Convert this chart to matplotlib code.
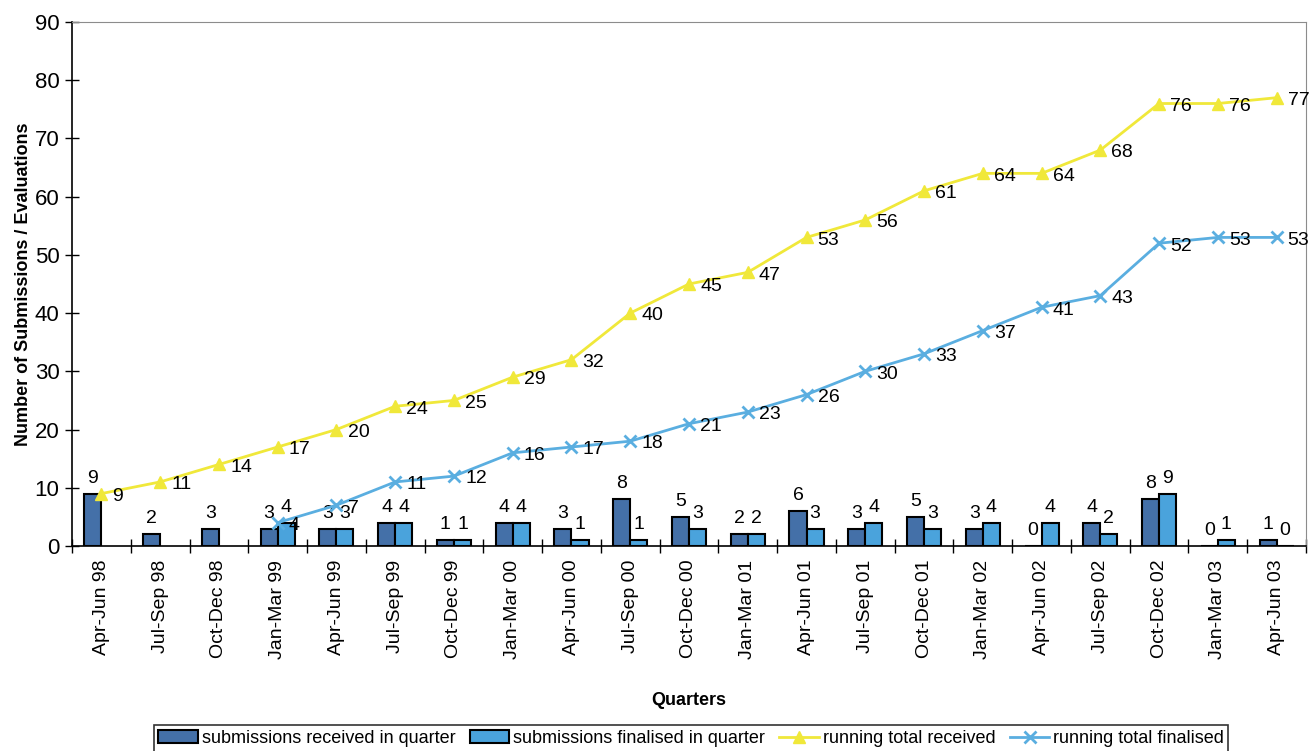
import matplotlib.pyplot as plt
import numpy as np

plt.rcParams['font.family'] = ['Liberation Sans', 'DejaVu Sans']

quarters = ['Apr-Jun 98', 'Jul-Sep 98', 'Oct-Dec 98', 'Jan-Mar 99', 'Apr-Jun 99',
            'Jul-Sep 99', 'Oct-Dec 99', 'Jan-Mar 00', 'Apr-Jun 00', 'Jul-Sep 00',
            'Oct-Dec 00', 'Jan-Mar 01', 'Apr-Jun 01', 'Jul-Sep 01', 'Oct-Dec 01',
            'Jan-Mar 02', 'Apr-Jun 02', 'Jul-Sep 02', 'Oct-Dec 02', 'Jan-Mar 03',
            'Apr-Jun 03']
received = [9, 2, 3, 3, 3, 4, 1, 4, 3, 8, 5, 2, 6, 3, 5, 3, 0, 4, 8, 0, 1]
finalised = [None, None, None, 4, 3, 4, 1, 4, 1, 1, 3, 2, 3, 4, 3, 4, 4, 2, 9, 1, 0]
total_received = [9, 11, 14, 17, 20, 24, 25, 29, 32, 40, 45, 47, 53, 56, 61, 64, 64,
                  68, 76, 76, 77]
total_finalised = [None, None, None, 4, 7, 11, 12, 16, 17, 18, 21, 23, 26, 30, 33,
                   37, 41, 43, 52, 53, 53]

c_recv = '#4470a8'
c_fin = '#4aa3dc'
c_yellow = '#f0e83a'
c_blue = '#5aaee0'

x = np.arange(len(quarters))
w = 0.29

fig = plt.figure(figsize=(13.09, 7.51), dpi=100)
ax = fig.add_axes([0.055, 0.273, 0.9427, 0.6977])

fin_idx = [i for i, v in enumerate(finalised) if v is not None]
fin_vals = [finalised[i] for i in fin_idx]

b1 = ax.bar(x - w / 2, received, w, color=c_recv, edgecolor='black', linewidth=1.5,
            label='submissions received in quarter', zorder=2)
b2 = ax.bar(np.array(fin_idx) + w / 2, fin_vals, w, color=c_fin, edgecolor='black',
            linewidth=1.5, label='submissions finalised in quarter', zorder=2)

# value labels above the bars
for xi, v in zip(x - w / 2, received):
    ax.annotate(str(v), (xi, v), xytext=(0, 5), textcoords='offset points',
                ha='center', va='bottom', fontsize=14)
for xi, v in zip(np.array(fin_idx) + w / 2, fin_vals):
    ax.annotate(str(v), (xi, v), xytext=(0, 5), textcoords='offset points',
                ha='center', va='bottom', fontsize=14)

ax.plot(x, total_received, color=c_yellow, lw=2, marker='^', markersize=9,
        label='running total received', zorder=3)
tf_idx = [i for i, v in enumerate(total_finalised) if v is not None]
tf_vals = [total_finalised[i] for i in tf_idx]
ax.plot(tf_idx, tf_vals, color=c_blue, lw=2, marker='x', markersize=9,
        markeredgewidth=2, label='running total finalised', zorder=3)

# running totals labelled to the right of each point
for xi, v in zip(x, total_received):
    ax.annotate(str(v), (xi, v), xytext=(8, -2), textcoords='offset points',
                ha='left', va='center', fontsize=14)
for xi, v in zip(tf_idx, tf_vals):
    ax.annotate(str(v), (xi, v), xytext=(8, -2), textcoords='offset points',
                ha='left', va='center', fontsize=14)

ax.set_xlim(-0.5, len(quarters) - 0.5)
ax.set_ylim(0, 90)
ax.set_yticks(range(0, 91, 10))
ax.set_xticks(x)
ax.set_xticklabels(quarters, rotation=90, fontsize=14)
ax.tick_params(axis='x', length=0, pad=10)
ax.set_xticks(np.arange(-0.5, len(quarters), 1), minor=True)
ax.tick_params(axis='x', which='minor', direction='inout', length=10, width=1)
ax.tick_params(axis='y', direction='inout', length=10, width=1, labelsize=16, pad=4)

for side in ['top', 'right']:
    ax.spines[side].set_color('#8c8c8c')
for side in ['left', 'bottom']:
    ax.spines[side].set_linewidth(1.2)

ax.set_ylabel('Number of Submissions / Evaluations', fontsize=13, fontweight='bold',
              labelpad=2)
ax.set_xlabel('Quarters', fontsize=13, fontweight='bold', labelpad=24)

leg = fig.legend(handles=[b1, b2, ax.lines[0], ax.lines[1]], loc='upper center',
                 bbox_to_anchor=(0.528, 0.046), ncol=4, fontsize=13, frameon=True,
                 fancybox=False, edgecolor='black', handlelength=2.2,
                 handletextpad=0.2, columnspacing=0.8, borderpad=0.25)
leg.get_frame().set_linewidth(1.2)

fig.savefig('out.png', dpi=100)
